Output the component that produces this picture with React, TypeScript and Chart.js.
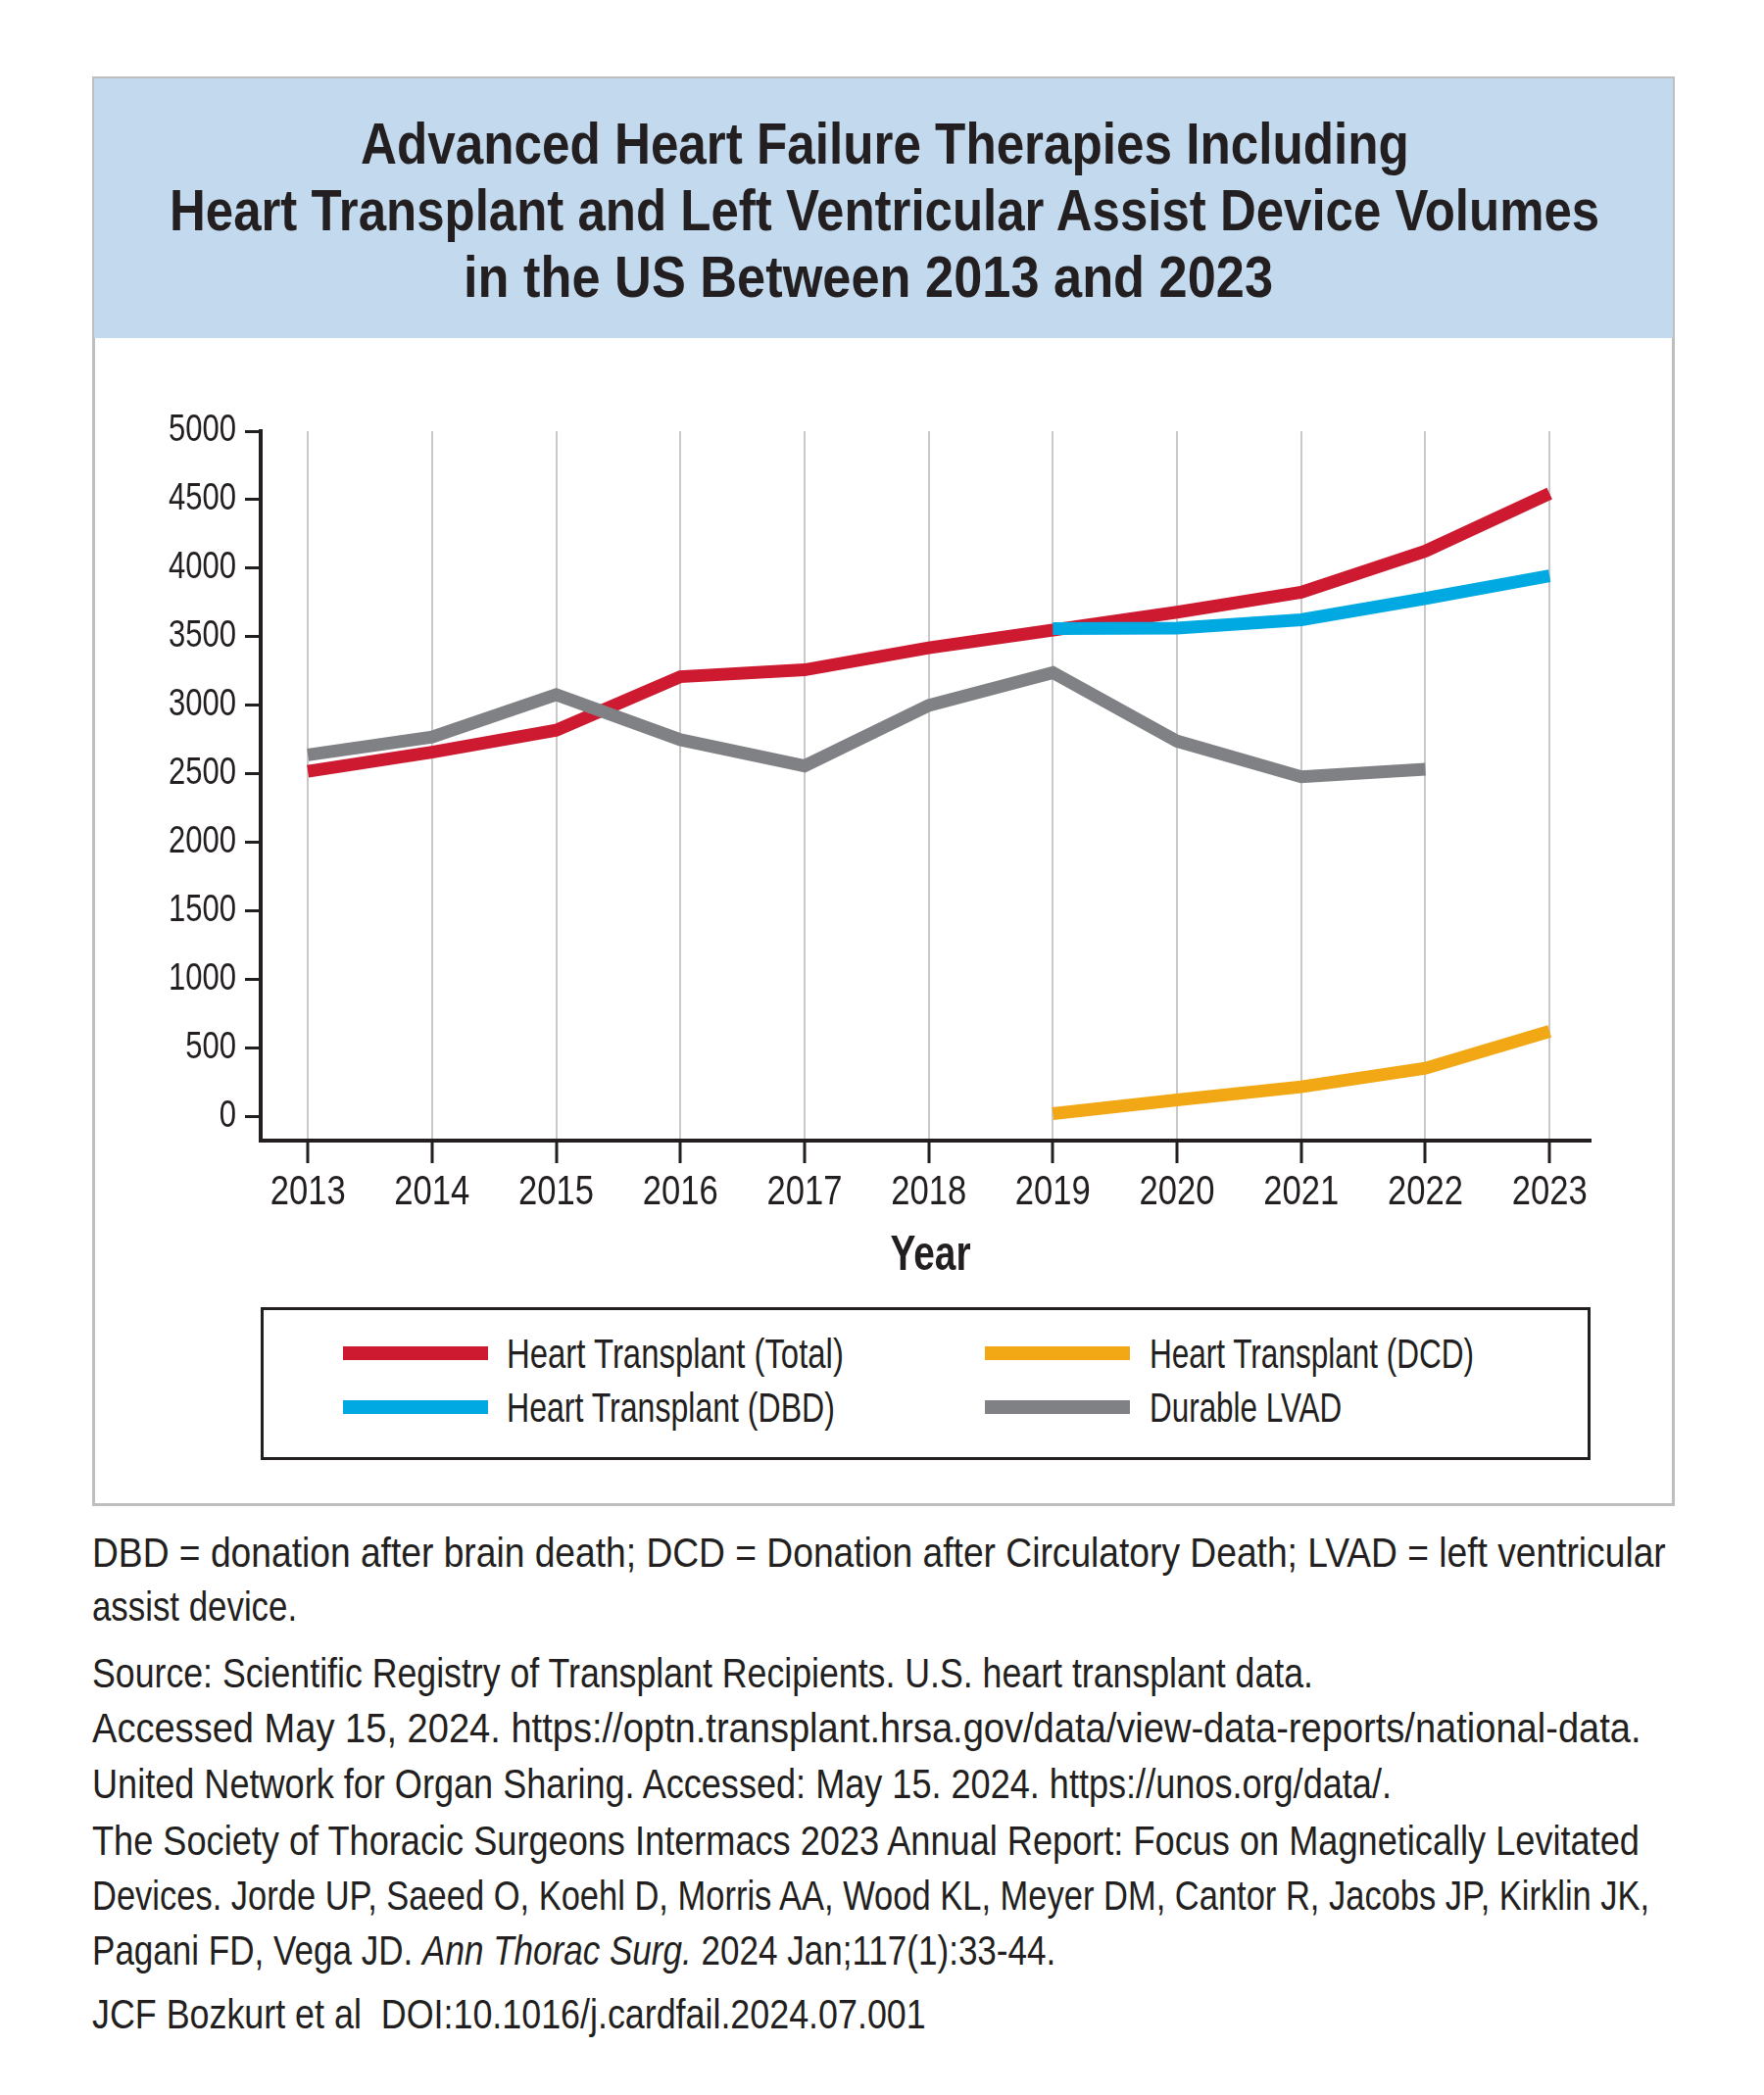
import React, { useEffect, useLayoutEffect, useRef } from 'react';
import { Chart, registerables } from 'chart.js';

Chart.register(...registerables);

const years = [2013, 2014, 2015, 2016, 2017, 2018, 2019, 2020, 2021, 2022, 2023];
const totalHT = [2520, 2660, 2820, 3210, 3260, 3420, 3550, 3680, 3825, 4125, 4545];
const dbdHT = [null, null, null, null, null, null, 3560, 3565, 3625, 3780, 3945];
const dcdHT = [null, null, null, null, null, null, 25, 125, 220, 355, 625];
const lvad = [2640, 2770, 3080, 2750, 2560, 3000, 3240, 2740, 2480, 2535, null];
const yTicks = [0, 500, 1000, 1500, 2000, 2500, 3000, 3500, 4000, 4500, 5000];

const labelTotal = 'Heart Transplant (Total)';
const labelDBD = 'Heart Transplant (DBD)';
const labelDCD = 'Heart Transplant (DCD)';
const labelLVAD = 'Durable LVAD';
const xTitle = 'Year';

const colorTotal = '#cd1a31';
const colorDBD = '#00a9e2';
const colorDCD = '#f2a814';
const colorLVAD = '#808185';

const titleLines = [
  'Advanced Heart Failure Therapies Including',
  'Heart Transplant and Left Ventricular Assist Device Volumes',
  'in the US Between 2013 and 2023',
];

const FONT = "'Liberation Sans', Arimo, Arial, sans-serif";
const INK = '#231f20';

let measureCtx: CanvasRenderingContext2D | null = null;
function textWidth(text: string, font: string): number {
  if (!measureCtx) measureCtx = document.createElement('canvas').getContext('2d');
  if (!measureCtx) return 1;
  measureCtx.font = font;
  return measureCtx.measureText(text).width || 1;
}

const toPoints = (vals: (number | null)[]) =>
  years.map((yr, i) => ({ x: yr, y: vals[i] }));

const condensedLabels = {
  id: 'condensedLabels',
  afterDraw(chart: any) {
    const ctx: CanvasRenderingContext2D = chart.ctx;
    const xs = chart.scales.x;
    const ys = chart.scales.y;
    const xFont = `42px ${FONT}`;
    const yFont = `38px ${FONT}`;
    const sxX = 77 / textWidth('2013', xFont);
    const sxY = 69 / textWidth('5000', yFont);
    ctx.save();
    ctx.fillStyle = INK;
    ctx.textBaseline = 'middle';
    ctx.font = xFont;
    ctx.textAlign = 'center';
    xs.ticks.forEach((t: any) => {
      const px = xs.getPixelForValue(t.value);
      ctx.save();
      ctx.translate(px, xs.top + 53);
      ctx.scale(sxX, 1);
      ctx.fillText(String(t.value), 0, 0);
      ctx.restore();
    });
    ctx.font = yFont;
    ctx.textAlign = 'right';
    ys.ticks.forEach((t: any) => {
      const py = ys.getPixelForValue(t.value);
      ctx.save();
      ctx.translate(ys.right - 25, py);
      ctx.scale(sxY, 1);
      ctx.fillText(String(t.value), 0, 0);
      ctx.restore();
    });
    const tFont = `bold 50px ${FONT}`;
    ctx.font = tFont;
    ctx.textAlign = 'center';
    const sxT = 82 / textWidth(xTitle, tFont);
    ctx.save();
    ctx.translate((chart.chartArea.left + chart.chartArea.right) / 2 + 5, xs.top + 118);
    ctx.scale(sxT, 1);
    ctx.fillText(xTitle, 0, 0);
    ctx.restore();
    ctx.restore();
  },
};

function ChartCanvas() {
  const ref = useRef<HTMLCanvasElement | null>(null);
  useEffect(() => {
    if (!ref.current) return;
    const chart = new Chart(ref.current, {
      type: 'line',
      data: {
        datasets: [
          { label: labelTotal, data: toPoints(totalHT), borderColor: colorTotal, order: 3 },
          { label: labelDBD, data: toPoints(dbdHT), borderColor: colorDBD, order: 1 },
          { label: labelDCD, data: toPoints(dcdHT), borderColor: colorDCD, order: 2 },
          { label: labelLVAD, data: toPoints(lvad), borderColor: colorLVAD, order: 0 },
        ].map((d) => ({
          ...d,
          borderWidth: 13,
          pointRadius: 0,
          pointHoverRadius: 0,
          tension: 0,
          fill: false,
          spanGaps: false,
          borderCapStyle: 'butt' as const,
          borderJoinStyle: 'miter' as const,
        })),
      },
      plugins: [condensedLabels],
      options: {
        animation: false,
        responsive: false,
        maintainAspectRatio: false,
        devicePixelRatio: 1,
        layout: { padding: { left: 0, right: 86, top: 60, bottom: 0 } },
        plugins: { legend: { display: false }, tooltip: { enabled: false } },
        scales: {
          x: {
            type: 'linear',
            min: 2012.62,
            max: 2023.33,
            afterBuildTicks: (s: any) => {
              s.ticks = years.map((v) => ({ value: v }));
            },
            afterFit: (s: any) => {
              s.height = 166;
            },
            grid: {
              color: '#c9c9c9',
              lineWidth: 2,
              drawOnChartArea: true,
              drawTicks: true,
              tickLength: 23,
              tickWidth: 3,
              tickColor: INK,
            },
            border: { display: true, color: INK, width: 4 },
            ticks: { display: false, autoSkip: false, maxRotation: 0 },
            title: { display: false, text: xTitle },
          },
          y: {
            min: -172,
            max: 5000,
            afterBuildTicks: (s: any) => {
              s.ticks = yTicks.map((v) => ({ value: v }));
            },
            afterFit: (s: any) => {
              s.width = 172;
            },
            grid: {
              drawOnChartArea: false,
              drawTicks: true,
              tickLength: 16,
              tickWidth: 3,
              tickColor: INK,
            },
            border: { display: true, color: INK, width: 4 },
            ticks: { display: false },
          },
        },
      },
    });
    return () => chart.destroy();
  }, []);
  return (
    <canvas
      ref={ref}
      width={1615}
      height={950}
      style={{ position: 'absolute', left: 94, top: 380, width: 1615, height: 950 }}
    />
  );
}

type FitProps = {
  left: number;
  cy: number;
  width: number;
  size: number;
  bold?: boolean;
  children: React.ReactNode;
};

function FitText({ left, cy, width, size, bold, children }: FitProps) {
  const ref = useRef<HTMLDivElement | null>(null);
  const lh = Math.round(size * 1.25);
  useLayoutEffect(() => {
    const el = ref.current;
    if (!el) return;
    const natural = el.scrollWidth || 1;
    el.style.transform = `scaleX(${width / natural})`;
  }, [width, size]);
  return (
    <div
      ref={ref}
      style={{
        position: 'absolute',
        left,
        top: cy - lh / 2,
        height: lh,
        lineHeight: `${lh}px`,
        fontSize: size,
        fontWeight: bold ? 'bold' : 'normal',
        whiteSpace: 'nowrap',
        transformOrigin: 'left center',
      }}
    >
      {children}
    </div>
  );
}

const legendItems = [
  { label: labelTotal, color: colorTotal, col: 0, row: 0, w: 344 },
  { label: labelDCD, color: colorDCD, col: 1, row: 0, w: 331 },
  { label: labelDBD, color: colorDBD, col: 0, row: 1, w: 335 },
  { label: labelLVAD, color: colorLVAD, col: 1, row: 1, w: 196 },
];
const legendColX = [350, 1005];
const legendTextX = [517, 1173];
const legendRowY = [1381, 1436];

const titleLeft = [368, 173, 473];
const titleWidth = [1070, 1459, 826];
const titleY = [146, 214, 282];

const footLines: { y: number; w: number; content: React.ReactNode }[] = [
  { y: 1584, w: 1606, content: 'DBD = donation after brain death; DCD = Donation after Circulatory Death; LVAD = left ventricular' },
  { y: 1639, w: 209, content: 'assist device.' },
  { y: 1707, w: 1246, content: 'Source: Scientific Registry of Transplant Recipients. U.S. heart transplant data.' },
  { y: 1763, w: 1581, content: 'Accessed May 15, 2024. https://optn.transplant.hrsa.gov/data/view-data-reports/national-data.' },
  { y: 1820, w: 1326, content: 'United Network for Organ Sharing. Accessed: May 15. 2024. https://unos.org/data/.' },
  { y: 1878, w: 1579, content: 'The Society of Thoracic Surgeons Intermacs 2023 Annual Report: Focus on Magnetically Levitated' },
  { y: 1934, w: 1589, content: 'Devices. Jorde UP, Saeed O, Koehl D, Morris AA, Wood KL, Meyer DM, Cantor R, Jacobs JP, Kirklin JK,' },
  {
    y: 1990,
    w: 983,
    content: (
      <>
        Pagani FD, Vega JD. <i>Ann Thorac Surg.</i> 2024 Jan;117(1):33-44.
      </>
    ),
  },
  { y: 2055, w: 851, content: 'JCF Bozkurt et al\u00a0 DOI:10.1016/j.cardfail.2024.07.001' },
];

export default function App() {
  return (
    <div
      style={{
        position: 'absolute',
        left: 0,
        top: 0,
        width: 1800,
        height: 2138,
        background: '#ffffff',
        fontFamily: FONT,
        color: INK,
        overflow: 'hidden',
      }}
    >
      <div
        style={{
          position: 'absolute',
          left: 94,
          top: 78,
          width: 1615,
          height: 1459,
          boxSizing: 'border-box',
          border: '3px solid #bcbec0',
        }}
      />
      <div
        style={{
          position: 'absolute',
          left: 96,
          top: 80,
          width: 1611,
          height: 265,
          background: '#c3daee',
        }}
      />
      {titleLines.map((t, i) => (
        <FitText key={i} left={titleLeft[i]} cy={titleY[i]} width={titleWidth[i]} size={60} bold>
          {t}
        </FitText>
      ))}
      <ChartCanvas />
      <div
        style={{
          position: 'absolute',
          left: 266,
          top: 1334,
          width: 1357,
          height: 156,
          boxSizing: 'border-box',
          border: `3px solid ${INK}`,
        }}
      />
      {legendItems.map((it, i) => (
        <React.Fragment key={i}>
          <div
            style={{
              position: 'absolute',
              left: legendColX[it.col],
              top: legendRowY[it.row] - 7,
              width: 148,
              height: 14,
              background: it.color,
            }}
          />
          <FitText left={legendTextX[it.col]} cy={legendRowY[it.row]} width={it.w} size={42}>
            {it.label}
          </FitText>
        </React.Fragment>
      ))}
      {footLines.map((l, i) => (
        <FitText key={i} left={94} cy={l.y} width={l.w} size={43}>
          {l.content}
        </FitText>
      ))}
    </div>
  );
}
